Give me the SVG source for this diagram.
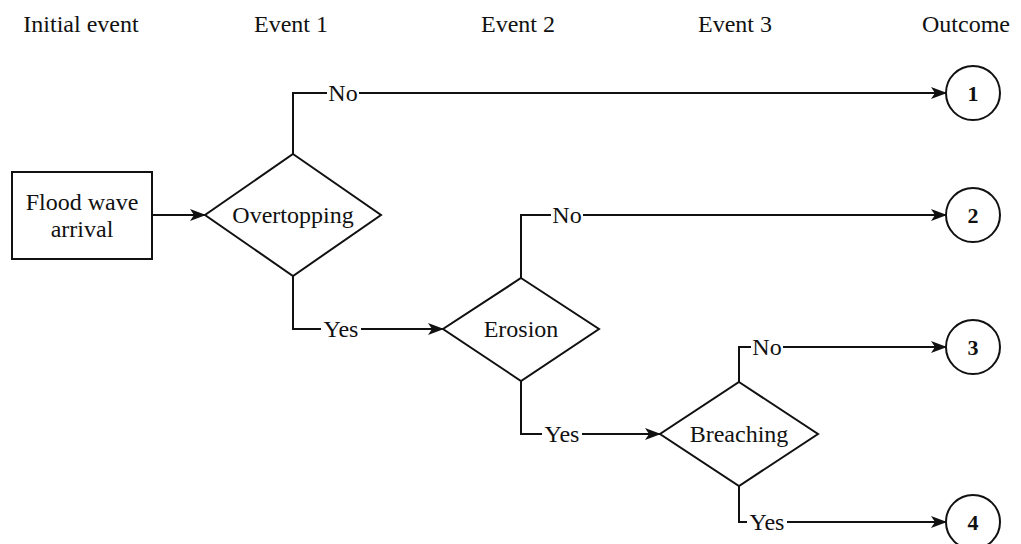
<svg xmlns="http://www.w3.org/2000/svg" width="1021" height="544" viewBox="0 0 1021 544">
<style>
  text { font-family: 'Liberation Serif', 'Tinos', 'DejaVu Serif', serif; font-size: 24px; fill: #111; text-anchor: middle; }
  .num { font-weight: bold; font-size: 22px; }
  .shape { fill: #fff; stroke: #111; stroke-width: 2; }
  .conn { fill: none; stroke: #111; stroke-width: 2; }
  .lblbg { fill: #fff; stroke: none; }
</style>
<defs>
  <marker id="arrow" viewBox="0 0 16 12" refX="15" refY="6" markerWidth="16" markerHeight="12" markerUnits="userSpaceOnUse" orient="auto">
    <path d="M0,0 L16,6 L0,12 L4,6 Z" fill="#111"/>
  </marker>
</defs>
<rect width="1021" height="544" fill="#fff"/>
<g id="headers">
  <text x="81" y="32">Initial event</text>
  <text x="291" y="32">Event 1</text>
  <text x="518" y="32">Event 2</text>
  <text x="735" y="32">Event 3</text>
  <text x="966" y="32">Outcome</text>
</g>
<g id="connectors">
  <path class="conn" d="M152,215 H205" marker-end="url(#arrow)"/>
  <path class="conn" d="M293,154 V93 H946" marker-end="url(#arrow)"/>
  <path class="conn" d="M293,276 V329 H443" marker-end="url(#arrow)"/>
  <path class="conn" d="M521,278 V215 H946" marker-end="url(#arrow)"/>
  <path class="conn" d="M521,381 V434 H660" marker-end="url(#arrow)"/>
  <path class="conn" d="M739,382 V347 H946" marker-end="url(#arrow)"/>
  <path class="conn" d="M739,486 V522 H946" marker-end="url(#arrow)"/>
  <rect class="lblbg" x="327" y="83" width="32" height="20"/>
  <text x="343" y="101">No</text>
  <rect class="lblbg" x="321" y="319" width="40" height="20"/>
  <text x="341" y="337">Yes</text>
  <rect class="lblbg" x="551" y="205" width="32" height="20"/>
  <text x="567" y="223">No</text>
  <rect class="lblbg" x="542" y="424" width="40" height="20"/>
  <text x="562" y="442">Yes</text>
  <rect class="lblbg" x="751" y="337" width="32" height="20"/>
  <text x="767" y="355">No</text>
  <rect class="lblbg" x="747" y="512" width="40" height="20"/>
  <text x="767" y="530">Yes</text>
</g>
<g id="flood">
  <rect class="shape" x="12" y="172" width="140" height="87"/>
  <text x="82" y="210">Flood wave</text>
  <text x="82" y="237">arrival</text>
</g>
<g id="overtopping">
  <polygon class="shape" points="293,154 381,215 293,276 205,215"/>
  <text x="293" y="223">Overtopping</text>
</g>
<g id="erosion">
  <polygon class="shape" points="521,278 599,329 521,381 443,329"/>
  <text x="521" y="337">Erosion</text>
</g>
<g id="breaching">
  <polygon class="shape" points="739,382 818,434 739,486 660,434"/>
  <text x="739" y="442">Breaching</text>
</g>
<g id="outcome1">
  <circle class="shape" cx="973" cy="93" r="27"/>
  <text class="num" x="973" y="101">1</text>
</g>
<g id="outcome2">
  <circle class="shape" cx="973" cy="215" r="27"/>
  <text class="num" x="973" y="223">2</text>
</g>
<g id="outcome3">
  <circle class="shape" cx="973" cy="347" r="27"/>
  <text class="num" x="973" y="355">3</text>
</g>
<g id="outcome4">
  <circle class="shape" cx="973" cy="522" r="27"/>
  <text class="num" x="973" y="530">4</text>
</g>
</svg>
